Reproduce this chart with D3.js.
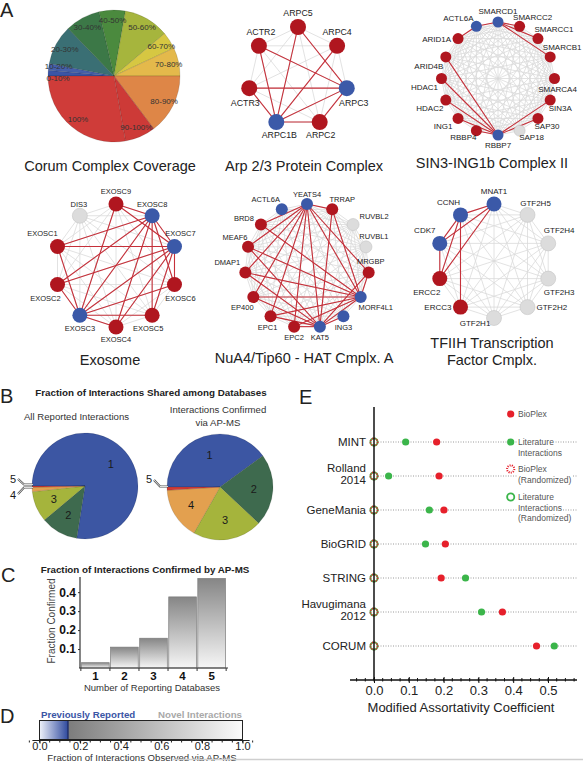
<!DOCTYPE html>
<html><head><meta charset="utf-8">
<script src="https://cdn.jsdelivr.net/npm/d3@7"></script>
<style>
html,body{margin:0;padding:0;background:#fff;}
svg{display:block;font-family:"Liberation Sans",Arial,Helvetica,sans-serif;}
</style></head><body>
<svg id="chart" width="583" height="762"></svg>
<script>
// ================= DATA =================
// Panel A – Corum complex coverage (share of complexes, read from pie angles)
const coverageCats = ["0-10%","10-20%","20-30%","30-40%","40-50%","50-60%","60-70%","70-80%","80-90%","90-100%","100%"];
const coverageVals = [5,6,35,31,23,40,15,25,53,27,100];

// Panel A – complexes (nodes clockwise from top), status and BioPlex edges
const arpNodes  = ["ARPC5","ARPC4","ARPC3","ARPC2","ARPC1B","ACTR3","ACTR2"];
const arpStatus = ["prey","prey","bait","prey","bait","prey","prey"];
const arpEdges  = [["ACTR2","ARPC3"],["ACTR2","ARPC1B"],["ARPC5","ARPC3"],["ARPC5","ARPC1B"],["ARPC4","ARPC1B"],
                   ["ACTR3","ARPC3"],["ACTR3","ARPC1B"],["ARPC1B","ARPC3"],["ARPC1B","ARPC2"],["ARPC2","ARPC3"]];

const sin3Nodes  = ["SMARCD1","SMARCC2","SMARCC1","SMARCB1","SMARCA4","SIN3A","SAP30","SAP18","RBBP7","RBBP4","ING1","HDAC2","HDAC1","ARID4B","ARID1A","ACTL6A"];
const sin3Status = ["bait","prey","prey","prey","prey","prey","prey","none","bait","prey","prey","prey","prey","prey","prey","bait"];
const sin3Edges  = [["SMARCD1","ACTL6A"],["SMARCD1","SMARCC2"],["SMARCD1","SMARCC1"],["SMARCD1","SMARCB1"],["ACTL6A","ARID1A"],
                    ["RBBP7","ARID4B"],["RBBP7","HDAC1"],["RBBP7","HDAC2"],["RBBP7","ING1"],["RBBP7","RBBP4"],["RBBP7","SIN3A"],["RBBP7","SAP30"]];

const exoNodes  = ["EXOSC9","EXOSC8","EXOSC7","EXOSC6","EXOSC5","EXOSC4","EXOSC3","EXOSC2","EXOSC1","DIS3"];
const exoStatus = ["prey","bait","bait","prey","prey","prey","bait","prey","prey","none"];
const exoEdges  = [["EXOSC8","EXOSC9"],["EXOSC8","EXOSC7"],["EXOSC8","EXOSC6"],["EXOSC8","EXOSC5"],["EXOSC8","EXOSC4"],["EXOSC8","EXOSC3"],["EXOSC8","EXOSC2"],["EXOSC8","EXOSC1"],
                   ["EXOSC7","EXOSC9"],["EXOSC7","EXOSC6"],["EXOSC7","EXOSC5"],["EXOSC7","EXOSC4"],["EXOSC7","EXOSC3"],["EXOSC7","EXOSC2"],["EXOSC7","EXOSC1"],
                   ["EXOSC3","EXOSC9"],["EXOSC3","EXOSC6"],["EXOSC3","EXOSC5"],["EXOSC3","EXOSC4"],["EXOSC3","EXOSC2"],["EXOSC3","EXOSC1"]];

const nuaNodes  = ["YEATS4","TRRAP","RUVBL2","RUVBL1","MRGBP","MORF4L1","ING3","KAT5","EPC2","EPC1","EP400","DMAP1","MEAF6","BRD8","ACTL6A"];
const nuaStatus = ["bait","prey","none","none","prey","bait","bait","bait","prey","prey","prey","prey","prey","prey","bait"];
const nuaEdges  = [["YEATS4","TRRAP"],["YEATS4","MRGBP"],["YEATS4","MORF4L1"],["YEATS4","KAT5"],["YEATS4","EPC2"],["YEATS4","EPC1"],["YEATS4","EP400"],["YEATS4","DMAP1"],["YEATS4","MEAF6"],["YEATS4","BRD8"],
                   ["KAT5","TRRAP"],["KAT5","MRGBP"],["KAT5","MORF4L1"],["KAT5","ING3"],["KAT5","EPC2"],["KAT5","EPC1"],["KAT5","EP400"],["KAT5","DMAP1"],["KAT5","MEAF6"],
                   ["MORF4L1","TRRAP"],["MORF4L1","MRGBP"],["MORF4L1","EPC2"],["MORF4L1","EPC1"],["MORF4L1","EP400"],["MORF4L1","DMAP1"],["MORF4L1","MEAF6"],["MORF4L1","BRD8"]];

const tfiihNodes  = ["MNAT1","GTF2H5","GTF2H4","GTF2H3","GTF2H2","GTF2H1","ERCC3","ERCC2","CDK7","CCNH"];
const tfiihStatus = ["bait","none","none","none","none","none","prey","prey","bait","bait"];
const tfiihEdges  = [["MNAT1","CCNH"],["MNAT1","CDK7"],["MNAT1","ERCC2"],["CCNH","CDK7"],["CCNH","ERCC2"],["CCNH","ERCC3"],["CDK7","ERCC2"]];

// Panel B – share of interactions by number of reporting databases (%)
const dbCounts        = ["1","2","3","4","5"];
const allReported     = [77.5,11.4,9.4,1.3,0.4];
const confirmedByApms = [40.0,22.0,21.2,15.8,1.0];

// Panel C – fraction confirmed by AP-MS
const nDatabases    = ["1","2","3","4","5"];
const fracConfirmed = [0.028,0.11,0.157,0.375,0.472];
const fracTicks     = [0.1,0.2,0.3,0.4];

// Panel D
const previouslyReported = 0.14;
const dTicks = [0,0.2,0.4,0.6,0.8,1.0];

// Panel E – modified assortativity coefficient
const eDatabases     = ["MINT","Rolland 2014","GeneMania","BioGRID","STRING","Havugimana 2012","CORUM"];
const bioplexVals    = [0.180,0.187,0.201,0.205,0.193,0.369,0.467];
const literatureVals = [0.091,0.042,0.159,0.148,0.263,0.309,0.518];
const bioplexRand    = [0,0,0,0,0,0,0];
const literatureRand = [0,0,0,0,0,0,0];
const eTicks = [0,0.1,0.2,0.3,0.4,0.5];

// ================= STYLE / LAYOUT =================
const coverageColors = ["#3b55a6","#4560aa","#3a6f74","#3c7847","#4b8a3e","#a6b53d","#d6c742","#e4b94b","#de8647","#cd3a37","#cf3c39"];
const coverageLabelNudge = [4.5,-2.5,0,0,0,0,0,0,0,0,0];
const dbColors = ["#3c56a3","#3e6a4e","#a5b43c","#e3a04f","#d03a35"];
const statusColor = {bait:"#3b59a8", prey:"#b0161f", none:"#dcdcdc"};
const EDGE_RED = "#c6303a";
const GREEN = "#3bb54a", RED = "#e6202b";

const svg = d3.select("#chart");
const defs = svg.append("defs");

// panel letters
svg.selectAll("text.letter").data([["A",0,17],["B",0,403],["C",1,582],["D",0,723],["E",299,404]])
  .join("text").attr("class","letter").attr("x",d=>d[1]).attr("y",d=>d[2])
  .attr("font-size",20).attr("fill","#222").text(d=>d[0]);

// ---------- Panel A pie ----------
{
  const pie = d3.pie().sort(null).value(d=>d).startAngle(-Math.PI/2).endAngle(1.5*Math.PI);
  const arcs = pie(coverageVals);
  const arc = d3.arc().innerRadius(0).outerRadius(66);
  const lab = d3.arc().innerRadius(56).outerRadius(56);
  const g = svg.append("g").attr("transform","translate(114,76)");
  g.selectAll("path").data(arcs).join("path").attr("d",arc)
    .attr("fill",(d,i)=>coverageColors[i]).attr("stroke","rgba(0,0,0,0.25)").attr("stroke-width",0.5);
  g.selectAll("text").data(arcs).join("text")
    .attr("transform",(d,i)=>{const c=lab.centroid(d);return `translate(${c[0]},${c[1]+coverageLabelNudge[i]})`;})
    .attr("dy","0.35em")
    .attr("text-anchor","middle").attr("font-size",8).attr("fill","#333")
    .text((d,i)=>coverageCats[i]);
  svg.append("text").attr("x",110).attr("y",171).attr("text-anchor","middle")
    .attr("font-size",14.5).attr("fill","#222").text("Corum Complex Coverage");
}

// ---------- Panel A networks ----------
function drawNetwork(nodes, status, edges, L) {
  const n = nodes.length;
  const angle = d3.scaleLinear().domain([0,n]).range([-Math.PI/2, 1.5*Math.PI]);
  const P = new Map(nodes.map((name,i)=>[name,[L.cx + L.r*Math.cos(angle(i)), L.cy + L.r*Math.sin(angle(i))]]));
  const g = svg.append("g");
  const all = d3.cross(d3.range(n), d3.range(n)).filter(([a,b])=>a<b).map(([a,b])=>[nodes[a],nodes[b]]);
  const line = sel => sel.attr("x1",d=>P.get(d[0])[0]).attr("y1",d=>P.get(d[0])[1])
                         .attr("x2",d=>P.get(d[1])[0]).attr("y2",d=>P.get(d[1])[1]);
  g.append("g").selectAll("line").data(all).join("line").call(line)
    .attr("stroke","#dadada").attr("stroke-width",0.8);
  g.append("g").selectAll("line").data(edges).join("line").call(line)
    .attr("stroke",EDGE_RED).attr("stroke-width",1.1);
  g.append("g").selectAll("circle").data(nodes).join("circle")
    .attr("cx",d=>P.get(d)[0]).attr("cy",d=>P.get(d)[1]).attr("r",L.nodeR)
    .attr("fill",(d,i)=>statusColor[status[i]])
    .attr("stroke",(d,i)=>status[i]==="none"?"#c4c4c4":"none").attr("stroke-width",0.6);
  g.append("g").selectAll("text").data(nodes).join("text")
    .attr("x",(d,i)=>P.get(d)[0]+L.labels[i][0]).attr("y",(d,i)=>P.get(d)[1]+L.labels[i][1])
    .attr("text-anchor",(d,i)=>L.labels[i][2]||"middle")
    .attr("font-size",L.fs).attr("fill","#222").text(d=>d);
  g.append("g").selectAll("text").data(L.title).join("text")
    .attr("x",L.tx).attr("y",(d,i)=>L.ty+i*17).attr("text-anchor","middle")
    .attr("font-size",14.5).attr("fill","#222").text(d=>d);
}

drawNetwork(arpNodes, arpStatus, arpEdges, {cx:298, cy:77, r:50, nodeR:8, fs:8.8,
  labels:[[0,-11],[0,-11],[7,18],[1,16],[3,16],[-4,18],[2,-11]],
  title:["Arp 2/3 Protein Complex"], tx:304, ty:171});

drawNetwork(sin3Nodes, sin3Status, sin3Edges, {cx:498, cy:78.5, r:56.5, nodeR:5.5, fs:8,
  labels:[[0,-8],[13,-6],[16,-7],[12,-7],[3,13],[10,11],[9,11],[12,9],[0,13],[-13,9],[-15,11],[-16,11],[-17,11],[-17,12],[-7,3,"end"],[-18,-5]],
  title:["SIN3-ING1b Complex II"], tx:492, ty:168});

drawNetwork(exoNodes, exoStatus, exoEdges, {cx:116, cy:265.5, r:61.5, nodeR:7.5, fs:7.5,
  labels:[[0,-10],[0,-9],[6,-10],[6,16],[-4,16],[0,15],[0,16],[-12,16],[-15,-10],[-1,-9]],
  title:["Exosome"], tx:110, ty:365});

drawNetwork(nuaNodes, nuaStatus, nuaEdges, {cx:307, cy:266, r:62, nodeR:6, fs:7.5,
  labels:[[0,-7],[10,-7],[21,-6],[8,-8],[2,-8],[15,13],[0,14],[0,13],[0,13],[-3,14],[-11,13],[-18,-7],[-13,-7],[-17,-4],[-16,-7]],
  title:["NuA4/Tip60 - HAT Cmplx. A"], tx:304, ty:363});

drawNetwork(tfiihNodes, tfiihStatus, tfiihEdges, {cx:494, cy:261, r:57, nodeR:7.5, fs:8,
  labels:[[0,-10],[8,-9],[11,-10],[11,16],[9,3,"start"],[-19,8],[-9,3,"end"],[-13,16],[-15,-10],[-12,-10]],
  title:["TFIIH Transcription","Factor Cmplx."], tx:492, ty:348});

// ---------- Panel B ----------
{
  svg.append("text").attr("x",151).attr("y",396).attr("text-anchor","middle")
    .attr("font-size",9.8).attr("font-weight","bold").attr("fill","#222")
    .text("Fraction of Interactions Shared among Databases");
  svg.append("text").attr("x",76.5).attr("y",419.5).attr("text-anchor","middle")
    .attr("font-size",9.6).attr("fill","#333").text("All Reported Interactions");
  svg.selectAll("text.bsub").data(["Interactions Confirmed","via AP-MS"]).join("text")
    .attr("class","bsub").attr("x",218).attr("y",(d,i)=>412.8+i*13.3).attr("text-anchor","middle")
    .attr("font-size",9.6).attr("fill","#333").text(d=>d);

  const pie = d3.pie().sort(null).value(d=>d).startAngle(-Math.PI/2).endAngle(1.5*Math.PI);
  const arc = d3.arc().innerRadius(0).outerRadius(53);
  const lab = d3.arc().innerRadius(34).outerRadius(34);
  const pies = [{vals:allReported, cx:85, cy:486, hide:[3,4]},{vals:confirmedByApms, cx:220, cy:487, hide:[4]}];
  pies.forEach(p=>{
    const arcs = pie(p.vals);
    const g = svg.append("g").attr("transform",`translate(${p.cx},${p.cy})`);
    g.selectAll("path").data(arcs).join("path").attr("d",arc)
      .attr("fill",(d,i)=>dbColors[i]).attr("stroke","rgba(0,0,0,0.3)").attr("stroke-width",0.4);
    g.selectAll("text").data(arcs.filter((d,i)=>!p.hide.includes(i))).join("text")
      .attr("transform",d=>`translate(${lab.centroid(d)})`).attr("dy","0.35em")
      .attr("text-anchor","middle").attr("font-size",11).attr("fill","#1a1a1a")
      .text(d=>dbCounts[d.index]);
  });
  // callouts
  const callouts = [
    {t:"5", x:13, y:483, pts:[[18,479],[24,484.5],[33,484.5]]},
    {t:"4", x:13, y:499, pts:[[18,494],[24,487.5],[33,487.5]]},
    {t:"5", x:149, y:483, pts:[[154,480],[160,486.5],[168,486.5]]}
  ];
  callouts.forEach(c=>{
    const l = d3.line()(c.pts);
    svg.append("path").attr("d",l).attr("fill","none").attr("stroke","#555").attr("stroke-width",2.2);
    svg.append("path").attr("d",l).attr("fill","none").attr("stroke","#fff").attr("stroke-width",0.8);
    svg.append("text").attr("x",c.x).attr("y",c.y).attr("text-anchor","middle")
      .attr("font-size",11).attr("fill","#1a1a1a").text(c.t);
  });
}

// ---------- Panel C ----------
{
  const grad = defs.append("linearGradient").attr("id","barGrad").attr("x1",0).attr("y1",0).attr("x2",0).attr("y2",1);
  grad.append("stop").attr("offset","0%").attr("stop-color","#868686");
  grad.append("stop").attr("offset","100%").attr("stop-color","#f6f6f6");

  svg.append("text").attr("x",145).attr("y",573).attr("text-anchor","middle")
    .attr("font-size",9.8).attr("font-weight","bold").attr("fill","#222")
    .text("Fraction of Interactions Confirmed by AP-MS");

  const x = d3.scaleBand().domain(nDatabases).range([81,226]).paddingInner(0.05).paddingOuter(0.02);
  const y = d3.scaleLinear().domain([0,0.48]).range([668,577]);

  svg.append("g").selectAll("rect").data(fracConfirmed).join("rect")
    .attr("x",(d,i)=>x(nDatabases[i])).attr("width",x.bandwidth())
    .attr("y",d=>y(d)).attr("height",d=>y(0)-y(d))
    .attr("fill","url(#barGrad)").attr("stroke","#7a7a7a").attr("stroke-width",0.7);

  const ya = svg.append("g").attr("transform","translate(80,0)")
    .call(d3.axisLeft(y).tickValues(fracTicks).tickSize(2).tickPadding(2).tickFormat(d3.format(".1f")));
  ya.select(".domain").remove();
  ya.selectAll("text").attr("font-size",12).attr("font-weight","bold").attr("fill","#111").attr("font-family",null);
  ya.selectAll(".tick line").attr("stroke","#333");
  svg.append("line").attr("x1",80).attr("x2",80).attr("y1",y(0.48)).attr("y2",y(0)).attr("stroke","#333").attr("stroke-width",1.2);

  const xa = svg.append("g").attr("transform",`translate(0,${y(0)})`)
    .call(d3.axisBottom(x).tickSize(0));
  xa.select(".domain").remove();
  xa.selectAll("text").attr("font-size",11.5).attr("font-weight","bold").attr("fill","#111").attr("font-family",null)
    .attr("y",11.5).attr("dy",null);
  svg.append("line").attr("x1",79).attr("x2",228).attr("y1",y(0)).attr("y2",y(0)).attr("stroke","#333").attr("stroke-width",1.2);
  const gap = (x.step()-x.bandwidth())/2;
  const bounds = nDatabases.map(d=>x(d)-gap).concat([x(nDatabases[nDatabases.length-1])+x.bandwidth()+gap]);
  svg.append("g").selectAll("line").data(bounds).join("line")
    .attr("x1",d=>d).attr("x2",d=>d).attr("y1",y(0)).attr("y2",y(0)+3).attr("stroke","#333");

  svg.append("text").attr("transform","translate(55,621) rotate(-90)").attr("text-anchor","middle")
    .attr("font-size",10).attr("fill","#444").text("Fraction Confirmed");
  svg.append("text").attr("x",152).attr("y",691).attr("text-anchor","middle")
    .attr("font-size",9.5).attr("fill","#333").text("Number of Reporting Databases");
}

// ---------- Panel D ----------
{
  const x = d3.scaleLinear().domain([0,1]).range([39.5,242.5]);
  const gb = defs.append("linearGradient").attr("id","blueGrad");
  gb.append("stop").attr("offset","0%").attr("stop-color","#eef1f9");
  gb.append("stop").attr("offset","100%").attr("stop-color","#2f4a9e");
  const gg = defs.append("linearGradient").attr("id","grayGrad");
  gg.append("stop").attr("offset","0%").attr("stop-color","#7c7c7c");
  gg.append("stop").attr("offset","100%").attr("stop-color","#fbfbfb");

  svg.append("text").attr("x",41).attr("y",717.5).attr("font-size",9.7).attr("font-weight","bold")
    .attr("fill","#3a55a5").text("Previously Reported");
  svg.append("text").attr("x",242).attr("y",717.5).attr("text-anchor","end").attr("font-size",9.7).attr("font-weight","bold")
    .attr("fill","#a8a8a8").text("Novel Interactions");

  const top = 720.5, h = 19;
  svg.append("rect").attr("x",x(0)).attr("y",top).attr("width",x(previouslyReported)-x(0)).attr("height",h).attr("fill","url(#blueGrad)");
  svg.append("rect").attr("x",x(previouslyReported)).attr("y",top).attr("width",x(1)-x(previouslyReported)).attr("height",h).attr("fill","url(#grayGrad)");
  svg.append("line").attr("x1",x(previouslyReported)).attr("x2",x(previouslyReported)).attr("y1",top).attr("y2",top+h)
    .attr("stroke","#1f2f6e").attr("stroke-width",1.5);
  svg.append("rect").attr("x",x(0)).attr("y",top).attr("width",x(1)-x(0)).attr("height",h)
    .attr("fill","none").attr("stroke","#222").attr("stroke-width",1);

  const axY = top+h+1;
  const ax = svg.append("g").attr("transform",`translate(0,${axY})`)
    .call(d3.axisBottom(x).tickValues(dTicks).tickSize(3).tickFormat(d3.format(".1f")));
  ax.select(".domain").remove();
  ax.selectAll("text").attr("font-size",11).attr("fill","#222").attr("font-family",null)
    .attr("y",9).attr("dy",null);
  svg.append("line").attr("x1",x(-0.035)).attr("x2",x(1.035)).attr("y1",axY).attr("y2",axY).attr("stroke","#222").attr("stroke-width",1.2);
  svg.append("g").selectAll("line").data(d3.range(-0.05,1.06,0.05)).join("line")
    .attr("x1",d=>x(d)).attr("x2",d=>x(d)).attr("y1",axY).attr("y2",axY+2).attr("stroke","#222");

  svg.append("text").attr("x",142).attr("y",761).attr("text-anchor","middle")
    .attr("font-size",9.6).attr("fill","#333").text("Fraction of Interactions Observed via AP-MS");
  svg.append("line").attr("x1",173).attr("x2",583).attr("y1",759.5).attr("y2",759.5).attr("stroke","#cfcfcf").attr("stroke-width",1.5);
}

// ---------- Panel E ----------
{
  const x = d3.scaleLinear().domain([0,0.5]).range([374,548]);
  const y = d3.scalePoint().domain(eDatabases).range([442,646]);
  const yAxisBottom = 680;

  // dotted guides
  svg.append("g").selectAll("line").data(eDatabases).join("line")
    .attr("x1",x(0)+4).attr("x2",577).attr("y1",d=>y(d)).attr("y2",d=>y(d))
    .attr("stroke","#9a9a9a").attr("stroke-width",1).attr("stroke-dasharray","1,1.5");

  // legend
  const lx = 510.7, tx = 518;
  const lg = svg.append("g");
  const legendText = [
    {lines:["BioPlex"], y:414},
    {lines:["Literature","Interactions"], y:442},
    {lines:["BioPlex","(Randomized)"], y:469},
    {lines:["Literature","Interactions","(Randomized)"], y:497}
  ];
  const txtG = lg.append("g");
  legendText.forEach(e=>{
    e.lines.forEach((t,i)=>{
      txtG.append("text").attr("x",tx).attr("y",e.y+3+i*10.6).attr("font-size",8.5).attr("fill","#555").text(t);
    });
  });
  txtG.selectAll("text").each(function(){
    const b = this.getBBox();
    lg.insert("rect",":first-child").attr("x",b.x-1).attr("y",b.y).attr("width",b.width+2).attr("height",b.height).attr("fill","#fff");
  });
  lg.append("circle").attr("cx",lx).attr("cy",414).attr("r",3.6).attr("fill",RED);
  lg.append("circle").attr("cx",lx).attr("cy",442).attr("r",3.6).attr("fill",GREEN);
  lg.append("circle").attr("cx",lx).attr("cy",469).attr("r",3.6).attr("fill","#fff").attr("stroke",RED).attr("stroke-width",2).attr("stroke-dasharray","1.1,1.1");
  lg.append("circle").attr("cx",lx).attr("cy",497).attr("r",3.6).attr("fill","#fff").attr("stroke",GREEN).attr("stroke-width",1.8);

  // randomized markers
  svg.append("g").selectAll("circle").data(literatureRand).join("circle")
    .attr("cx",d=>x(d)).attr("cy",(d,i)=>y(eDatabases[i])).attr("r",3.6)
    .attr("fill","#fff").attr("stroke",GREEN).attr("stroke-width",1.8);
  svg.append("g").selectAll("circle").data(bioplexRand).join("circle")
    .attr("cx",d=>x(d)).attr("cy",(d,i)=>y(eDatabases[i])).attr("r",3.6)
    .attr("fill","none").attr("stroke",RED).attr("stroke-width",1.8).attr("stroke-dasharray","1.3,1.1").attr("opacity",0.85);

  // vertical zero line
  svg.append("line").attr("x1",x(0)).attr("x2",x(0)).attr("y1",407).attr("y2",yAxisBottom).attr("stroke","#111").attr("stroke-width",1.5);

  // observed values
  svg.append("g").selectAll("circle").data(literatureVals).join("circle")
    .attr("cx",d=>x(d)).attr("cy",(d,i)=>y(eDatabases[i])).attr("r",3.6).attr("fill",GREEN);
  svg.append("g").selectAll("circle").data(bioplexVals).join("circle")
    .attr("cx",d=>x(d)).attr("cy",(d,i)=>y(eDatabases[i])).attr("r",3.6).attr("fill",RED);

  // row labels
  const rl = svg.append("g");
  eDatabases.forEach(name=>{
    const m = name.match(/^(.*) (\d{4})$/);
    const lines = m ? [m[1],m[2]] : [name];
    const y0 = lines.length===1 ? y(name)+4 : y(name)-4.5;
    lines.forEach((t,i)=>rl.append("text").attr("x",366).attr("y",y0+i*12.5).attr("text-anchor","end")
      .attr("font-size",11.5).attr("fill","#222").text(t));
  });

  // x axis
  const ax = svg.append("g").attr("transform",`translate(0,${yAxisBottom})`)
    .call(d3.axisBottom(x).tickValues(eTicks).tickSize(3).tickFormat(d3.format(".1f")));
  ax.select(".domain").remove();
  ax.selectAll("text").attr("font-size",13).attr("fill","#222").attr("font-family",null)
    .attr("y",14.5).attr("dy",null);
  ax.selectAll(".tick line").attr("y1",-3).attr("stroke","#111");
  svg.append("line").attr("x1",350).attr("x2",577).attr("y1",yAxisBottom).attr("y2",yAxisBottom).attr("stroke","#111").attr("stroke-width",1.3);
  svg.append("g").selectAll("line").data(d3.range(-0.05,0.58,0.025)).join("line")
    .attr("x1",d=>x(d)).attr("x2",d=>x(d)).attr("y1",yAxisBottom-2).attr("y2",yAxisBottom+1.5).attr("stroke","#111");
  svg.append("text").attr("x",461).attr("y",712).attr("text-anchor","middle")
    .attr("font-size",13).attr("fill","#222").text("Modified Assortativity Coefficient");
}
</script>
</body></html>
